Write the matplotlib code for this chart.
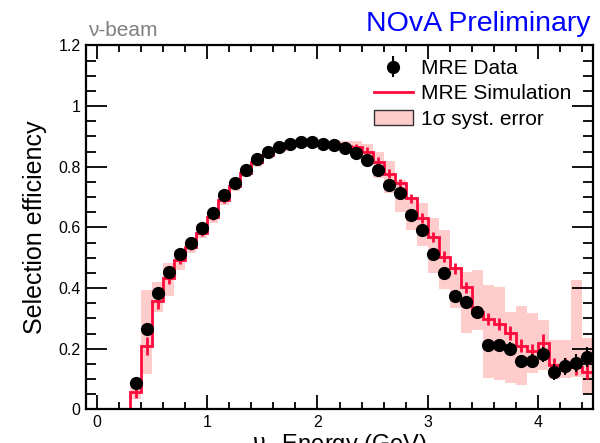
import numpy as np
import matplotlib
matplotlib.use("Agg")
import matplotlib.pyplot as plt
from matplotlib.patches import Patch
from matplotlib.lines import Line2D
from matplotlib.ticker import MultipleLocator

plt.rcParams['font.family'] = ['Liberation Sans', 'DejaVu Sans']

# Reconstructed neutrino energy binning (GeV)
bin_edges = np.round(np.arange(-0.1, 4.501, 0.1), 2)

# MRE simulation efficiency per bin
sim_eff = [0.0, 0.0, 0.0, 0.0,
           0.058, 0.209, 0.357, 0.434, 0.493, 0.535, 0.583, 0.635, 0.692, 0.735,
           0.778, 0.815, 0.840, 0.860, 0.872, 0.878, 0.878, 0.876, 0.874, 0.870,
           0.864, 0.850, 0.817, 0.777, 0.746, 0.696, 0.630, 0.568, 0.504, 0.465,
           0.403, 0.320, 0.297, 0.282, 0.252, 0.210, 0.192, 0.220, 0.145, 0.144,
           0.138, 0.124]
sim_err = [0.0, 0.0, 0.0, 0.0,
           0.02, 0.03, 0.025, 0.02, 0.015, 0.01, 0.01, 0.01, 0.01, 0.008,
           0.008, 0.006, 0.006, 0.006, 0.006, 0.006, 0.006, 0.006, 0.008, 0.01,
           0.012, 0.014, 0.014, 0.015, 0.015, 0.015, 0.016, 0.016, 0.017, 0.018,
           0.018, 0.02, 0.02, 0.02, 0.022, 0.022, 0.024, 0.028, 0.024, 0.024,
           0.025, 0.025]

# 1-sigma systematic band (lower / upper edge) for bins starting at 0.3 GeV
syst_lo = [0.035, 0.116, 0.322, 0.374, 0.460, 0.516, 0.565, 0.615, 0.675, 0.720,
           0.765, 0.800, 0.828, 0.848, 0.862, 0.868, 0.868, 0.866, 0.862, 0.855,
           0.845, 0.825, 0.762, 0.713, 0.652, 0.592, 0.537, 0.449, 0.396, 0.333,
           0.252, 0.260, 0.102, 0.097, 0.088, 0.080, 0.119, 0.130, 0.100, 0.102,
           0.108, 0.053]
syst_hi = [0.085, 0.393, 0.421, 0.482, 0.526, 0.555, 0.610, 0.655, 0.715, 0.752,
           0.795, 0.830, 0.852, 0.872, 0.882, 0.888, 0.888, 0.886, 0.886, 0.885,
           0.885, 0.875, 0.848, 0.819, 0.757, 0.700, 0.680, 0.630, 0.590, 0.471,
           0.454, 0.460, 0.410, 0.405, 0.320, 0.340, 0.317, 0.295, 0.229, 0.229,
           0.425, 0.234]

# MRE data efficiency at bin centres from 0.35 GeV
data_eff = [0.087, 0.265, 0.383, 0.452, 0.511, 0.548, 0.598, 0.649, 0.706, 0.746,
            0.790, 0.825, 0.848, 0.865, 0.876, 0.882, 0.881, 0.876, 0.871, 0.861,
            0.844, 0.822, 0.790, 0.741, 0.712, 0.641, 0.592, 0.513, 0.451, 0.375,
            0.354, 0.320, 0.213, 0.211, 0.199, 0.158, 0.159, 0.181, 0.124, 0.142,
            0.152, 0.172]
data_err = [0.02, 0.02, 0.015, 0.012, 0.01, 0.008, 0.008, 0.008, 0.007, 0.007,
            0.006, 0.006, 0.006, 0.006, 0.006, 0.006, 0.006, 0.006, 0.006, 0.006,
            0.007, 0.007, 0.008, 0.009, 0.01, 0.011, 0.012, 0.013, 0.014, 0.016,
            0.017, 0.018, 0.02, 0.02, 0.022, 0.022, 0.024, 0.026, 0.026, 0.028,
            0.03, 0.033]

centers = 0.5 * (bin_edges[:-1] + bin_edges[1:])
data_x = centers[4:]
syst_x = centers[4:]

sim_color = '#ff0a3c'
band_color = '#ffcccc'

fig = plt.figure(figsize=(6.0, 4.43), dpi=100)
ax = fig.add_axes([86 / 600, 33.7 / 443, 507 / 600, 363.8 / 443])

# Systematic band
ax.bar(syst_x, np.array(syst_hi) - np.array(syst_lo), bottom=syst_lo, width=0.1,
       color=band_color, edgecolor='none', zorder=1)

# Simulation histogram with statistical error bars
ax.stairs(sim_eff, bin_edges, color=sim_color, lw=2.0, zorder=2, baseline=None)
ax.errorbar(centers[4:], sim_eff[4:], yerr=sim_err[4:], fmt='none',
            ecolor=sim_color, elinewidth=2.0, capsize=0, zorder=2)

# Data
ax.errorbar(data_x, data_eff, yerr=data_err, fmt='o', color='black', ms=8.5,
            elinewidth=1.5, capsize=0, zorder=3)

ax.set_xlim(-0.1, 4.5)
ax.set_ylim(0, 1.2)

ax.xaxis.set_major_locator(MultipleLocator(1))
ax.xaxis.set_minor_locator(MultipleLocator(0.2))
ax.yaxis.set_major_locator(MultipleLocator(0.2))
ax.yaxis.set_minor_locator(MultipleLocator(0.05))
ax.set_yticks([0, 0.2, 0.4, 0.6, 0.8, 1.0, 1.2])
ax.set_yticklabels(['0', '0.2', '0.4', '0.6', '0.8', '1', '1.2'])
ax.set_xticks([0, 1, 2, 3, 4])
ax.set_xticklabels(['0', '1', '2', '3', '4'])

ax.tick_params(which='both', direction='in', top=True, right=True,
               labelsize=11.5, width=1.3, pad=4)
ax.tick_params(axis='x', which='major', length=10)
ax.tick_params(axis='x', which='minor', length=5)
ax.tick_params(axis='y', which='major', length=15)
ax.tick_params(axis='y', which='minor', length=7)
for sp in ax.spines.values():
    sp.set_linewidth(1.6)

ax.set_ylabel('Selection efficiency', fontsize=18, labelpad=8)
ax.set_xlabel(r'$\nu_\mu$ Energy (GeV)', fontsize=17, labelpad=2)

fig.text(88 / 600, 1 - 36 / 443, '\u03bd-beam', color='#808080', fontsize=15,
         ha='left', va='baseline')
fig.text(591 / 600, 1 - 31 / 443, 'NOvA Preliminary', color='#0000ff',
         fontsize=20.5, ha='right', va='baseline')

# Legend
h_data = ax.errorbar([], [], yerr=[], fmt='o', color='black', ms=8.5,
                     elinewidth=1.5, capsize=0)
h_sim = Line2D([], [], color=sim_color, lw=2.0)
h_band = Patch(facecolor=band_color, edgecolor='#333333', lw=1.0)
ax.legend([h_data, h_sim, h_band],
          ['MRE Data', 'MRE Simulation', '1\u03c3 syst. error'],
          loc='upper right', bbox_to_anchor=(0.985, 1.0), frameon=False,
          fontsize=15, handlelength=1.9, handletextpad=0.4,
          labelspacing=0.3, borderaxespad=0.25)

fig.savefig('out.png', dpi=100)
